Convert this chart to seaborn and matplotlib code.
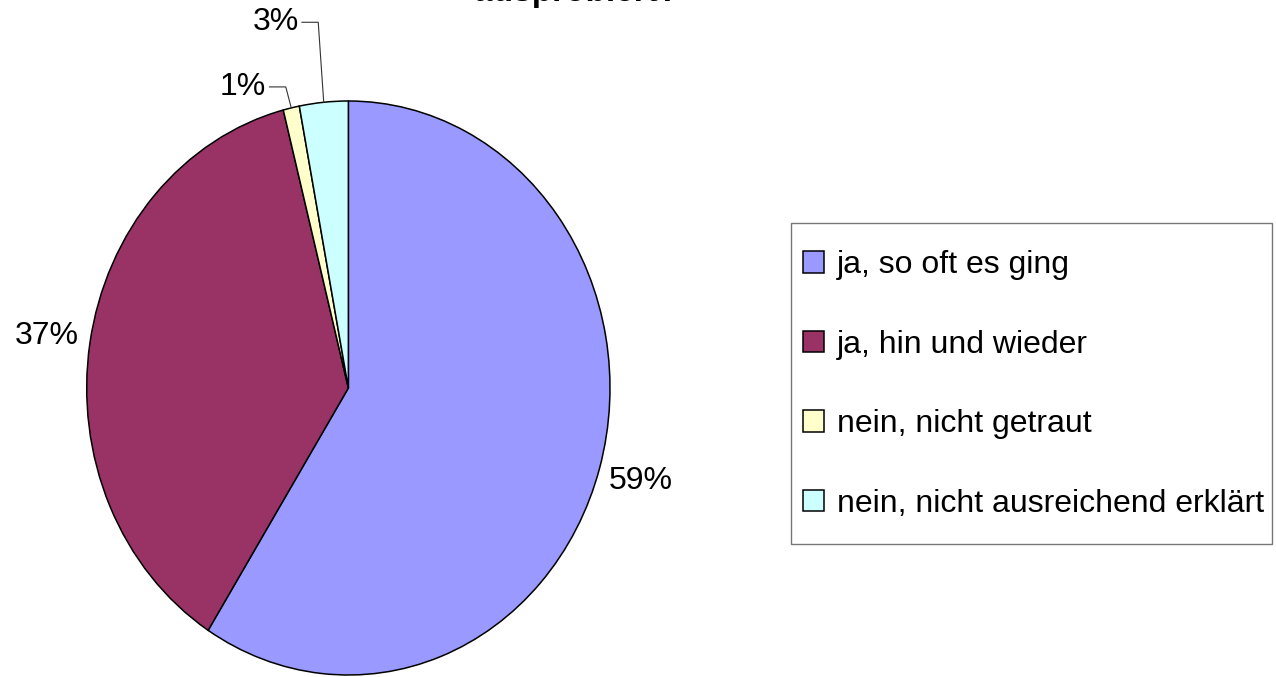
import numpy as np
import matplotlib
matplotlib.use("Agg")
import matplotlib.pyplot as plt
from matplotlib.patches import Rectangle
import seaborn as sns

# survey answers, clockwise from 12 o'clock
categories = ["ja, so oft es ging", "ja, hin und wieder",
              "nein, nicht getraut", "nein, nicht ausreichend erklärt"]
shares = [59, 37, 1, 3]
pct_labels = ["59%", "37%", "1%", "3%"]
colors = ["#9999FF", "#993366", "#FFFFCC", "#CCFFFF"]
title = "ausprobiert?"

sns.set_theme(style="white")
plt.rcParams["font.family"] = ["Liberation Sans", "DejaVu Sans"]
plt.rcParams["text.color"] = "black"

W, H = 1276, 677
fig = plt.figure(figsize=(W / 100, H / 100), dpi=100)
fig.patch.set_facecolor("white")

# the pie is stretched a bit vertically, so the axes box is the ellipse box
pl, pr, pt, pb = 86.7, 610.0, 101.0, 675.0
ax = fig.add_axes([pl / W, (H - pb) / H, (pr - pl) / W, (pb - pt) / H])

wedges, _ = ax.pie(shares, colors=colors, startangle=90, counterclock=False,
                   wedgeprops=dict(edgecolor="black", linewidth=1.1))
for w in wedges:
    w.set_clip_on(False)
ax.set_aspect("auto")
ax.set_xlim(-1, 1)
ax.set_ylim(-1, 1)
ax.axis("off")

# data units per pixel
sx = 2 / (pr - pl)
sy = 2 / (pb - pt)

fs = 23
lift = {2: 21, 3: 80}  # small slices get a leader line going up
for i, w in enumerate(wedges):
    ang = np.deg2rad((w.theta1 + w.theta2) / 2)
    if i in lift:
        axx, axy = np.cos(ang), np.sin(ang)
        ex, ey = axx - 5.5 * sx, axy + lift[i] * sy
        hx = ex - 16.5 * sx
        ax.plot([axx, ex, hx], [axy, ey, ey], color="#333333", lw=0.8,
                clip_on=False, solid_joinstyle="miter")
        ax.text(hx - 3 * sx, ey, pct_labels[i], ha="right", va="center",
                fontsize=fs, color="black")
    else:
        r = 1.165
        ax.text(r * np.cos(ang), r * np.sin(ang), pct_labels[i],
                ha="center", va="center", fontsize=fs, color="black")

# title is mostly cut off at the top edge, as in the source picture
fig.text(474 / W, 1 - 1.5 / H, title, ha="left", va="baseline",
         fontsize=24, fontweight="bold", color="black")

leg = fig.legend(wedges, categories, loc="center left",
                 bbox_to_anchor=(803 / W, 1 - 384.5 / H), frameon=False,
                 fontsize=fs, handlelength=0.66, handleheight=0.66,
                 handletextpad=0.41, labelspacing=1.55, borderpad=0,
                 borderaxespad=0)
for t in leg.get_texts():
    t.set_color("black")

fig.patches.append(Rectangle((791 / W, 1 - 544 / H), (1272 - 791) / W,
                             (544 - 223) / H, transform=fig.transFigure,
                             facecolor="none", edgecolor="#777777", lw=1.0))

fig.savefig("out.png", dpi=100)
